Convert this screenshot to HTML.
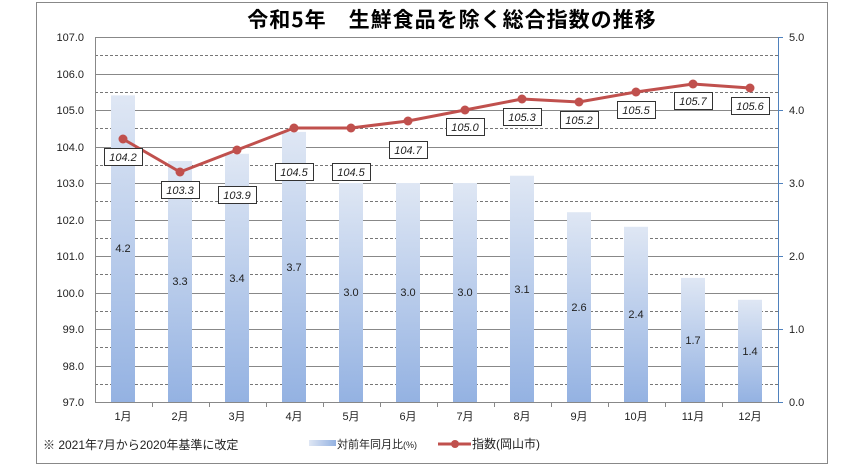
<!DOCTYPE html>
<html><head><meta charset="utf-8"><style>body{margin:0;background:#fff}svg{display:block}</style></head><body>
<svg width="862" height="467" xmlns="http://www.w3.org/2000/svg" font-family="Liberation Sans, Noto Sans CJK JP, sans-serif">
<defs><linearGradient id="g" x1="0" y1="0" x2="0" y2="1"><stop offset="0" stop-color="#dfe7f4"/><stop offset="1" stop-color="#94b2e2"/></linearGradient>
<linearGradient id="gl" x1="0" y1="0" x2="1" y2="0"><stop offset="0" stop-color="#dfe7f4"/><stop offset="1" stop-color="#94b2e2"/></linearGradient></defs>
<rect x="36.5" y="2.5" width="791" height="461" fill="#fff" stroke="#888"/>
<text x="452" y="27" font-size="21" font-weight="bold" text-anchor="middle" letter-spacing="1" font-family="Noto Sans CJK JP, sans-serif">令和5年　生鮮食品を除く総合指数の推移</text>
<g stroke="#888" stroke-width="1">
<line x1="95" y1="37.5" x2="778" y2="37.5"/><line x1="95" y1="74.5" x2="778" y2="74.5"/><line x1="95" y1="110.5" x2="778" y2="110.5"/><line x1="95" y1="147.5" x2="778" y2="147.5"/><line x1="95" y1="183.5" x2="778" y2="183.5"/><line x1="95" y1="220.5" x2="778" y2="220.5"/><line x1="95" y1="256.5" x2="778" y2="256.5"/><line x1="95" y1="293.5" x2="778" y2="293.5"/><line x1="95" y1="329.5" x2="778" y2="329.5"/><line x1="95" y1="366.5" x2="778" y2="366.5"/>
</g>
<g stroke="#777" stroke-dasharray="3,2">
<line x1="95" y1="55.5" x2="778" y2="55.5"/><line x1="95" y1="92.5" x2="778" y2="92.5"/><line x1="95" y1="128.5" x2="778" y2="128.5"/><line x1="95" y1="165.5" x2="778" y2="165.5"/><line x1="95" y1="201.5" x2="778" y2="201.5"/><line x1="95" y1="238.5" x2="778" y2="238.5"/><line x1="95" y1="274.5" x2="778" y2="274.5"/><line x1="95" y1="311.5" x2="778" y2="311.5"/><line x1="95" y1="347.5" x2="778" y2="347.5"/><line x1="95" y1="384.5" x2="778" y2="384.5"/>
</g>
<g fill="url(#g)">
<rect x="111" y="95.4" width="24" height="306.6"/><rect x="168" y="161" width="24" height="241"/><rect x="225" y="153.8" width="24" height="248.2"/><rect x="282" y="131.9" width="24" height="270.1"/><rect x="339" y="183" width="24" height="219"/><rect x="396" y="183" width="24" height="219"/><rect x="453" y="183" width="24" height="219"/><rect x="510" y="175.7" width="24" height="226.3"/><rect x="567" y="212.2" width="24" height="189.8"/><rect x="624" y="226.8" width="24" height="175.2"/><rect x="681" y="277.9" width="24" height="124.1"/><rect x="738" y="299.8" width="24" height="102.2"/>
</g>
<g font-size="11" text-anchor="middle" fill="#222">
<text x="123" y="252">4.2</text><text x="180" y="285">3.3</text><text x="237" y="282">3.4</text><text x="294" y="271">3.7</text><text x="351" y="296">3.0</text><text x="408" y="296">3.0</text><text x="465" y="296">3.0</text><text x="522" y="293">3.1</text><text x="579" y="311">2.6</text><text x="636" y="318">2.4</text><text x="693" y="344">1.7</text><text x="750" y="355">1.4</text>
</g>
<line x1="95.5" y1="37" x2="95.5" y2="402" stroke="#888"/>
<line x1="778.5" y1="37" x2="778.5" y2="402" stroke="#4f81bd"/>
<line x1="95" y1="402.5" x2="778" y2="402.5" stroke="#888"/>
<g stroke="#888"><line x1="152.5" y1="402" x2="152.5" y2="407"/><line x1="209.5" y1="402" x2="209.5" y2="407"/><line x1="266.5" y1="402" x2="266.5" y2="407"/><line x1="323.5" y1="402" x2="323.5" y2="407"/><line x1="380.5" y1="402" x2="380.5" y2="407"/><line x1="437.5" y1="402" x2="437.5" y2="407"/><line x1="494.5" y1="402" x2="494.5" y2="407"/><line x1="551.5" y1="402" x2="551.5" y2="407"/><line x1="608.5" y1="402" x2="608.5" y2="407"/><line x1="665.5" y1="402" x2="665.5" y2="407"/><line x1="722.5" y1="402" x2="722.5" y2="407"/></g>
<g stroke="#4f81bd"><line x1="778" y1="37.5" x2="783" y2="37.5"/><line x1="778" y1="110.5" x2="783" y2="110.5"/><line x1="778" y1="183.5" x2="783" y2="183.5"/><line x1="778" y1="256.5" x2="783" y2="256.5"/><line x1="778" y1="329.5" x2="783" y2="329.5"/><line x1="778" y1="402.5" x2="783" y2="402.5"/></g>
<g font-size="11" text-anchor="end" fill="#222">
<text x="84" y="41">107.0</text><text x="84" y="78">106.0</text><text x="84" y="114">105.0</text><text x="84" y="151">104.0</text><text x="84" y="187">103.0</text><text x="84" y="224">102.0</text><text x="84" y="260">101.0</text><text x="84" y="297">100.0</text><text x="84" y="333">99.0</text><text x="84" y="370">98.0</text><text x="84" y="406">97.0</text>
</g>
<g font-size="11" fill="#222">
<text x="789" y="41">5.0</text><text x="789" y="114">4.0</text><text x="789" y="187">3.0</text><text x="789" y="260">2.0</text><text x="789" y="333">1.0</text><text x="789" y="406">0.0</text>
</g>
<g font-size="11" text-anchor="middle" fill="#222">
<text x="123" y="420">1月</text><text x="180" y="420">2月</text><text x="237" y="420">3月</text><text x="294" y="420">4月</text><text x="351" y="420">5月</text><text x="408" y="420">6月</text><text x="465" y="420">7月</text><text x="522" y="420">8月</text><text x="579" y="420">9月</text><text x="636" y="420">10月</text><text x="693" y="420">11月</text><text x="750" y="420">12月</text>
</g>
<polyline fill="none" stroke="#c0504d" stroke-width="3" points="123,139 180,172 237,150 294,128 351,128 408,121 465,110 522,99 579,102 636,92 693,84 750,88"/>
<g fill="#c0504d"><circle cx="123" cy="139" r="4.5"/><circle cx="180" cy="172" r="4.5"/><circle cx="237" cy="150" r="4.5"/><circle cx="294" cy="128" r="4.5"/><circle cx="351" cy="128" r="4.5"/><circle cx="408" cy="121" r="4.5"/><circle cx="465" cy="110" r="4.5"/><circle cx="522" cy="99" r="4.5"/><circle cx="579" cy="102" r="4.5"/><circle cx="636" cy="92" r="4.5"/><circle cx="693" cy="84" r="4.5"/><circle cx="750" cy="88" r="4.5"/></g>
<g fill="#fff" stroke="#333" stroke-width="1">
<rect x="104.5" y="148.5" width="38" height="17"/><rect x="161.5" y="181.5" width="38" height="17"/><rect x="218.5" y="186.5" width="38" height="17"/><rect x="275.5" y="163.5" width="38" height="17"/><rect x="332.5" y="163.5" width="38" height="17"/><rect x="389.5" y="141.5" width="38" height="17"/><rect x="446.5" y="118.5" width="38" height="17"/><rect x="503.5" y="108.5" width="38" height="17"/><rect x="560.5" y="111.5" width="38" height="17"/><rect x="617.5" y="101.5" width="38" height="17"/><rect x="674.5" y="92.5" width="38" height="17"/><rect x="731.5" y="97.5" width="38" height="17"/>
</g>
<g font-size="11" font-style="italic" text-anchor="middle" fill="#222">
<text x="123" y="161">104.2</text><text x="180" y="194">103.3</text><text x="237" y="199">103.9</text><text x="294" y="176">104.5</text><text x="351" y="176">104.5</text><text x="408" y="154">104.7</text><text x="465" y="131">105.0</text><text x="522" y="121">105.3</text><text x="579" y="124">105.2</text><text x="636" y="114">105.5</text><text x="693" y="105">105.7</text><text x="750" y="110">105.6</text>
</g>
<text x="43" y="449" font-size="12" fill="#222">※ 2021年7月から2020年基準に改定</text>
<rect x="309" y="440" width="27" height="6" fill="url(#gl)"/>
<text x="337" y="448" font-size="11" fill="#222">対前年同月比<tspan font-size="9">(%)</tspan></text>
<line x1="438" y1="444" x2="471" y2="444" stroke="#c0504d" stroke-width="3"/><circle cx="455" cy="444" r="4" fill="#c0504d"/>
<text x="472" y="448" font-size="12" fill="#222">指数(岡山市)</text>
</svg>
</body></html>
